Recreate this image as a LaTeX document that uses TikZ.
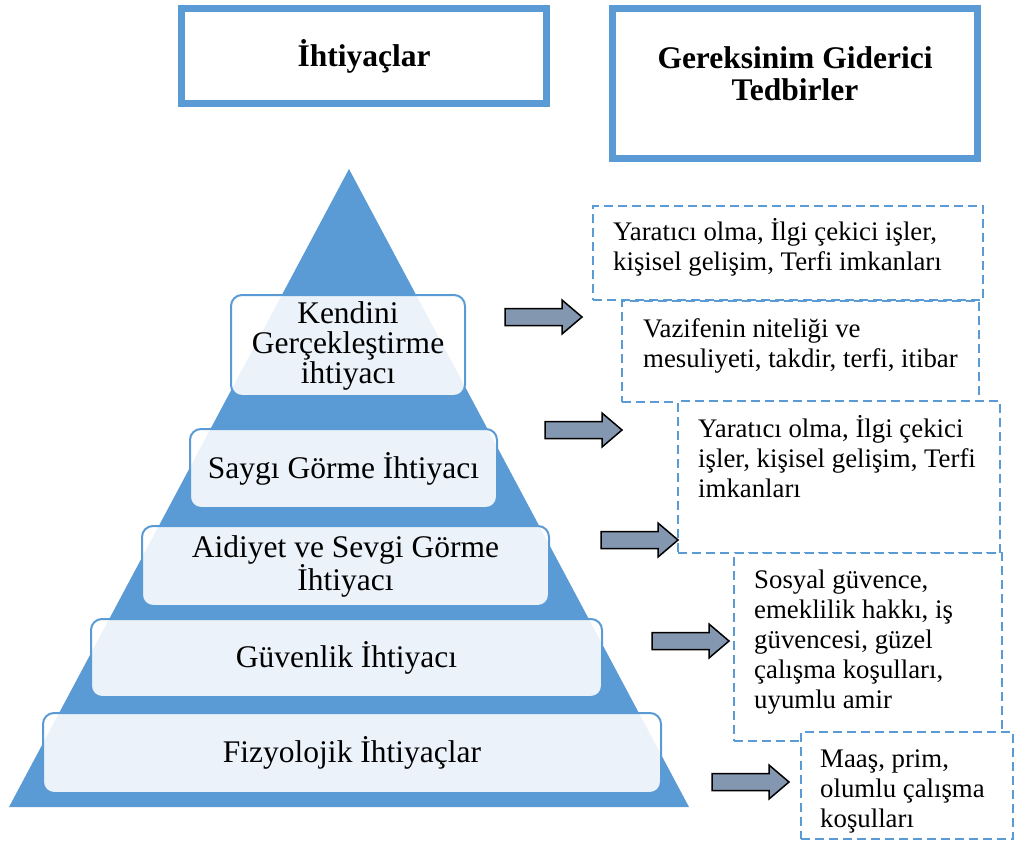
\documentclass[tikz,border=0pt]{standalone}
\usepackage{fontspec}
\setmainfont{Liberation Serif}
\usetikzlibrary{calc}
\definecolor{pyrblue}{HTML}{5B9BD5}
\definecolor{arrowfill}{HTML}{8497B0}
% strut that fixes the height of a first text line
\newcommand{\firstline}[1]{\rule{0pt}{#1}}
\begin{document}
\begin{tikzpicture}[x=1pt,y=-1pt,
  headbox/.style={draw=pyrblue, line width=7pt, fill=white, inner sep=0pt,
    font=\fontsize{31.5}{32}\selectfont\bfseries, align=center},
  headtext/.style={inner sep=0pt, align=center,
    font=\fontsize{31.5}{32}\selectfont\bfseries},
  levelbox/.style={draw=pyrblue, line width=2pt, rounded corners=11pt,
    fill=white, fill opacity=0.88, text opacity=1, inner sep=0pt,
    align=center, font=\fontsize{31.5}{32}\selectfont},
  measurebox/.style={draw=pyrblue, line width=2pt, dash pattern=on 9pt off 5pt,
    fill=white, inner sep=0pt, anchor=north west},
  measuretext/.style={inner sep=0pt, anchor=north west, align=left,
    font=\fontsize{26.8}{30}\selectfont},
  arrowbody/.style={fill=arrowfill, draw=black, line width=1.5pt, line join=miter},
  blockarrow/.pic={
    \path[arrowbody] (0,-8.5) -- (57,-8.5) -- (57,-17) -- (77,0)
      -- (57,17) -- (57,8.5) -- (0,8.5) -- cycle;
  }
]
\useasboundingbox (0,0) rectangle (1016,841);

% column headings
\node[headbox, minimum width=365pt, minimum height=95pt] (needs) at (364,56) {İhtiyaçlar};
\node[headbox, minimum width=365pt, minimum height=150pt] (measures) at (795,83.5) {};
\node[headtext, anchor=north] (measurestitle) at (795,44)
  {\firstline{24pt}Gereksinim Giderici\\Tedbirler};

% the pyramid and its levels
\fill[pyrblue] (349,169) -- (689,807) -- (9,807) -- cycle;

\node[levelbox, minimum width=234pt, minimum height=101pt,
      font=\fontsize{31.5}{30}\selectfont] (self) at (348,345.5)
  {Kendini\\Gerçekleştirme\\ihtiyacı};
\node[levelbox, minimum width=307pt, minimum height=79pt] (esteem) at (343.5,468.5)
  {Saygı Görme İhtiyacı};
\node[levelbox, minimum width=407pt, minimum height=80pt,
      font=\fontsize{31.5}{33}\selectfont] (belong) at (345.5,566)
  {Aidiyet ve Sevgi Görme\\İhtiyacı};
\node[levelbox, minimum width=511pt, minimum height=78pt] (safety) at (346.5,658)
  {Güvenlik İhtiyacı};
\node[levelbox, minimum width=618pt, minimum height=80pt] (body) at (352,753)
  {Fizyolojik İhtiyaçlar};

% measures for each level
\node[measurebox, minimum width=390pt, minimum height=94pt] (mA) at (592,205) {};
\node[measuretext] (tA) at ($(mA.north west)+(21,11)$)
  {\firstline{24pt}Yaratıcı olma, İlgi çekici işler,\\kişisel gelişim, Terfi imkanları};

\node[measurebox, minimum width=357pt, minimum height=101pt] (mB) at (621,300) {};
\node[measuretext] (tB) at ($(mB.north west)+(22,13)$)
  {\firstline{24pt}Vazifenin niteliği ve\\mesuliyeti, takdir, terfi, itibar};

\node[measurebox, minimum width=322pt, minimum height=152pt] (mC) at (677,400) {};
\node[measuretext] (tC) at ($(mC.north west)+(21,13)$)
  {\firstline{24pt}Yaratıcı olma, İlgi çekici\\işler, kişisel gelişim, Terfi\\imkanları};

\node[measurebox, minimum width=268pt, minimum height=188pt] (mD) at (733,552) {};
\node[measuretext] (tD) at ($(mD.north west)+(21,12)$)
  {\firstline{24pt}Sosyal güvence,\\emeklilik hakkı, iş\\güvencesi, güzel\\çalışma koşulları,\\uyumlu amir};

\node[measurebox, minimum width=212pt, minimum height=107pt] (mE) at (800,731) {};
\node[measuretext] (tE) at ($(mE.north west)+(20,12)$)
  {\firstline{24pt}Maaş, prim,\\olumlu çalışma\\koşulları};

% block arrows from the levels to their measures
\pic (a1) at (505,317) {blockarrow};
\pic (a2) at (545,430) {blockarrow};
\pic (a3) at (601,540) {blockarrow};
\pic (a4) at (652,641) {blockarrow};
\pic (a5) at (712,782) {blockarrow};
\end{tikzpicture}
\end{document}
